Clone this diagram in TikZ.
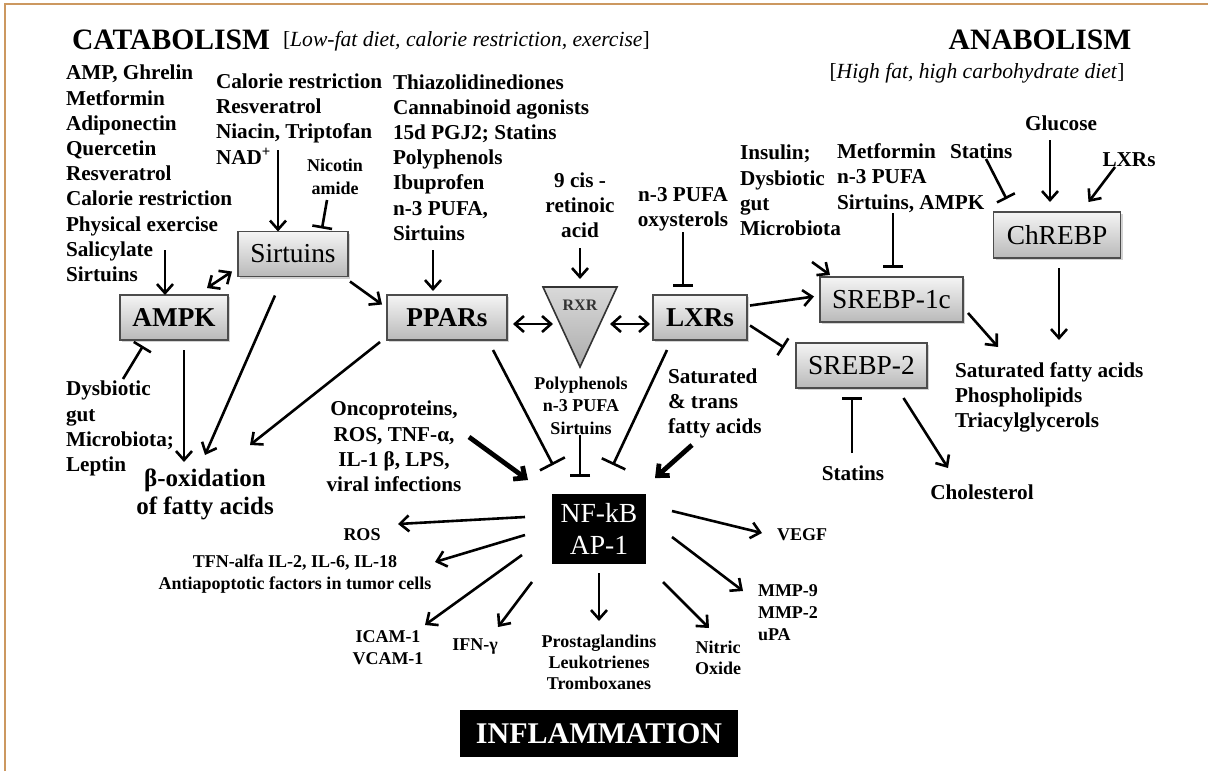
\documentclass[tikz,border=0pt]{standalone}
\usepackage{fontspec}
\setmainfont{Liberation Serif}
\usetikzlibrary{arrows.meta,shadows}
\definecolor{framec}{RGB}{204,152,96}

\begin{document}
\begin{tikzpicture}[x=0.5pt, y=-0.5pt, line width=1.3pt,
  every node/.style={inner sep=0pt, outer sep=0pt},
  lst/.style={font=\fontsize{10.6}{12.6}\selectfont\bfseries, align=left},
  lstc/.style={lst, align=center},
  sml/.style={font=\fontsize{9}{11.2}\selectfont\bfseries, align=center},
  hdr/.style={font=\fontsize{14.8}{16}\selectfont\bfseries},
  sub/.style={font=\fontsize{10.8}{13}\selectfont},
  gbox/.style={draw=black!70, line width=0.8pt, top color=gray!8, bottom color=gray!55,
    drop shadow={shadow xshift=1pt, shadow yshift=-1pt, opacity=0.35},
    font=\fontsize{13.7}{15}\selectfont, minimum height=22.5pt},
  bbox/.style={gbox, font=\fontsize{13.6}{15}\selectfont\bfseries},
  dark/.style={fill=black, text=white},
  act/.style={-{Straight Barb[length=4.5pt,width=8pt]}},
  big/.style={act, line width=2.4pt},
  dbl/.style={{Straight Barb[length=4.5pt,width=8pt]}-{Straight Barb[length=4.5pt,width=8pt]}},
  inh/.style={-{Bar[width=10pt]}}]
\useasboundingbox (0,0) rectangle (1208,771);
\draw[framec, line width=1pt] (5,771) -- (5,4) -- (1208,4);

% Headings
\node[hdr] (cat) at (171,40) {CATABOLISM};
\node[sub, anchor=west] (catsub) at (283,41) {[\textit{Low-fat diet, calorie restriction, exercise}]};
\node[hdr] (ana) at (1040,40) {ANABOLISM};
\node[sub] (anasub) at (977,73) {[\textit{High fat, high carbohydrate diet}]};

% Inputs (catabolism)
\node[lst, anchor=west] (amplist) at (66,173.5) {AMP, Ghrelin\\Metformin\\Adiponectin\\Quercetin\\Resveratrol\\Calorie restriction\\Physical exercise\\Salicylate\\Sirtuins};
\node[lst, anchor=west] (calres) at (216,119) {Calorie restriction\\Resveratrol\\Niacin, Triptofan\\NAD\textsuperscript{+}};
\node[sml] (nicot) at (335,177) {Nicotin\\amide};
\node[lst, anchor=west] (thia) at (393,157.5) {Thiazolidinediones\\Cannabinoid agonists\\15d PGJ2; Statins\\Polyphenols\\Ibuprofen\\n-3 PUFA,\\Sirtuins};
\node[lstc] (retin) at (580,205) {9 cis -\\retinoic\\acid};
\node[lstc] (oxy) at (683,209) {n-3 PUFA\\oxysterols};
\node[lst, anchor=west] (dysb) at (66,428.5) {Dysbiotic\\gut\\Microbiota;\\Leptin};
\node[lstc, font=\fontsize{12.5}{14}\selectfont\bfseries] (betaox) at (205,494) {β-oxidation\\of fatty acids};

% Inputs (anabolism)
\node[lst, anchor=west] (insulin) at (740,190.5) {Insulin;\\Dysbiotic\\gut\\Microbiota};
\node[lst, anchor=west] (metf) at (837,178) {Metformin\\n-3 PUFA\\Sirtuins, AMPK};
\node[lst, anchor=west] (statup) at (950,151) {Statins};
\node[lst] (glucose) at (1061,123) {Glucose};
\node[lst] (lxrup) at (1129,160) {LXRs};
\node[lst, anchor=west] (sat) at (955,397.5) {Saturated fatty acids\\Phospholipids\\Triacylglycerols};
\node[lst] (statlo) at (853,473) {Statins};
\node[lst] (chol) at (982,492) {Cholesterol};

% Receptor boxes
\node[gbox, minimum width=55pt] (sirt) at (293,254) {Sirtuins};
\node[bbox, minimum width=54pt] (ampk) at (174,317.5) {AMPK};
\node[bbox, minimum width=60pt] (ppars) at (447,317.5) {PPARs};
\node[bbox, minimum width=47pt] (lxrs) at (700,317.5) {LXRs};
\node[gbox, minimum width=63.5pt, minimum height=23pt] (chrebp) at (1057,235) {ChREBP};
\node[gbox, minimum width=71.5pt] (srebp1) at (891.5,299.5) {SREBP-1c};
\node[gbox, minimum width=65.5pt] (srebp2) at (861.5,365.5) {SREBP-2};

% RXR triangle
\coordinate (rxrNW) at (543,287);
\coordinate (rxrNE) at (617,287);
\coordinate (rxrS) at (580,367);
\coordinate (rxrtop) at (580,287);
\coordinate (rxrL) at (553,324);
\coordinate (rxrR) at (610,324);
\draw[draw=black!80, line width=0.8pt, top color=gray!30, bottom color=gray!65] (rxrNW) -- (rxrNE) -- (rxrS) -- cycle;
\node[font=\fontsize{8}{9}\selectfont\bfseries, text=black!80] (rxr) at (580,305) {RXR};

% Inflammation inputs
\node[lstc] (onco) at (394,446.5) {Oncoproteins,\\ROS, TNF-α,\\IL-1 β, LPS,\\viral infections};
\node[sml] (poly) at (581,405.5) {Polyphenols\\n-3 PUFA\\Sirtuins};
\node[lst, anchor=west] (satfa) at (668,403.5) {Saturated\\\& trans\\fatty acids};

% NF-kB and outputs
\node[dark, draw=white, line width=2pt, minimum width=49pt, minimum height=37pt, align=center,
  font=\fontsize{13.8}{16}\selectfont, drop shadow={shadow xshift=0.8pt, shadow yshift=-0.8pt, opacity=0.3}] (nfkb) at (599,529) {NF-kB\\AP-1};
\node[sml] (ros) at (362,535) {ROS};
\node[sml, font=\fontsize{9}{11}\selectfont\bfseries] (tfn) at (295,574) {TFN-alfa IL-2, IL-6, IL-18\\Antiapoptotic factors in tumor cells};
\node[sml, font=\fontsize{9}{11}\selectfont\bfseries] (icam) at (388,648) {ICAM-1\\VCAM-1};
\node[sml] (ifn) at (475,647) {IFN-γ};
\node[sml, font=\fontsize{9}{10.5}\selectfont\bfseries] (prosta) at (599,662) {Prostaglandins\\Leukotrienes\\Tromboxanes};
\node[sml, font=\fontsize{9}{10.5}\selectfont\bfseries] (nitric) at (718,657.5) {Nitric\\Oxide};
\node[sml, align=left, anchor=west, font=\fontsize{9}{11}\selectfont\bfseries] (mmp) at (758,613) {MMP-9\\MMP-2\\uPA};
\node[sml, anchor=west] (vegf) at (777,535) {VEGF};
\node[dark, minimum width=139pt, minimum height=23.5pt, font=\fontsize{15}{17}\selectfont\bfseries] (inflam) at (599,733.5) {INFLAMMATION};

% Free ends
\coordinate (cs1) at (165,250);
\coordinate (nadend) at (278,150);
\coordinate (nicend) at (327,200);
\coordinate (bo1) at (184,462);
\coordinate (bo2) at (205,455);
\coordinate (bo3) at (250,445);
\coordinate (dysend) at (123,379);
\coordinate (thiaend) at (433,250);
\coordinate (retend) at (580,248);
\coordinate (oxyend) at (683,232);
\coordinate (insend) at (812,262);
\coordinate (metend) at (893,213);
\coordinate (stend) at (986,159);
\coordinate (gluend) at (1050,140);
\coordinate (lxrupend) at (1115,167);
\coordinate (satend) at (1059,340);
\coordinate (satend2) at (998,347);
\coordinate (st2end) at (852,453);
\coordinate (cholend) at (948,468);
\coordinate (oncend) at (469,437);
\coordinate (polyend) at (580,435);
\coordinate (satfaend) at (692,445);
\coordinate (rosend) at (398,524);
\coordinate (tfnend) at (435,562);
\coordinate (icamend) at (425,625);
\coordinate (ifnend) at (498,627);
\coordinate (prosend) at (599,621);
\coordinate (nitend) at (709,628);
\coordinate (mmpend) at (743,591);
\coordinate (vegfend) at (762,533);

% Catabolism arrows
\draw[act] (cs1) -- (cs1 |- ampk.north);
\draw[act] (nadend) -- (nadend |- sirt.north);
\draw[inh] (nicend) -- ([shift={(29,-3)}]sirt.north);
\draw[dbl] ([shift={(-21,-7)}]ampk.north east) -- ([shift={(-6,-5)}]sirt.south west);
\draw[act] ([shift={(2,5)}]sirt.south east) -- ([shift={(-5,-13)}]ppars.west);
\draw[act] ([shift={(-18,19)}]sirt.south) -- (bo2);
\draw[act] ([shift={(10,10)}]ampk.south) -- (bo1);
\draw[act] ([shift={(-7,2)}]ppars.south west) -- (bo3);
\draw[inh] (dysend) -- ([shift={(23,6)}]ampk.south west);
\draw[act, shorten >=2pt] (thiaend) -- (thiaend |- ppars.north);
\draw[act, shorten >=4pt] (retend) -- (rxrtop);
\draw[dbl] ([shift={(6,6.5)}]ppars.east) -- (rxrL);
\draw[dbl] (rxrR) -- ([shift={(-3,6.5)}]lxrs.west);
\draw[inh, shorten >=4pt] (oxyend) -- (oxyend |- lxrs.north);

% Anabolism arrows
\draw[act] ([shift={(3,-12)}]lxrs.east) -- ([shift={(-6,-3)}]srebp1.west);
\draw[inh] ([shift={(3,8)}]lxrs.east) -- ([shift={(-12,-18)}]srebp2.west);
\draw[act] (insend) -- ([shift={(10,-2)}]srebp1.north west);
\draw[inh, shorten >=4.5pt] (metend) -- (metend |- srebp1.north);
\draw[inh] (stend) -- ([shift={(13,-13)}]chrebp.north west);
\draw[act, shorten >=5pt] (gluend) -- (gluend |- chrebp.north);
\draw[act] (lxrupend) -- ([shift={(-32,-10)}]chrebp.north east);
\draw[act] ([shift={(2,10)}]chrebp.south) -- (satend);
\draw[act] ([shift={(5,-9)}]srebp1.south east) -- (satend2);
\draw[inh, shorten >=4.5pt] (st2end) -- (st2end |- srebp2.south);
\draw[act] ([shift={(42,10)}]srebp2.south) -- (cholend);

% Inflammation arrows
\draw[big] (oncend) -- ([shift={(-22,-12)}]nfkb.north west);
\draw[inh, -{Bar[width=14pt]}] ([shift={(46,10)}]ppars.south) -- ([shift={(3,-27)}]nfkb.north west);
\draw[inh] (polyend) -- ([shift={(-19,-15)}]nfkb.north);
\draw[inh, -{Bar[width=13pt]}] ([shift={(-33,10)}]lxrs.south) -- ([shift={(-35,-27)}]nfkb.north east);
\draw[big] (satfaend) -- ([shift={(7,-14)}]nfkb.north east);
\draw[act] ([shift={(-25,-12)}]nfkb.west) -- (rosend);
\draw[act] ([shift={(-25,6)}]nfkb.west) -- (tfnend);
\draw[act] ([shift={(-28,26)}]nfkb.west) -- (icamend);
\draw[act] ([shift={(-18,16)}]nfkb.south west) -- (ifnend);
\draw[act] ([shift={(0,7)}]nfkb.south) -- (prosend);
\draw[act] ([shift={(15,16)}]nfkb.south east) -- (nitend);
\draw[act] ([shift={(24,8)}]nfkb.east) -- (mmpend);
\draw[act] ([shift={(24,-18)}]nfkb.east) -- (vegfend);
\end{tikzpicture}
\end{document}
